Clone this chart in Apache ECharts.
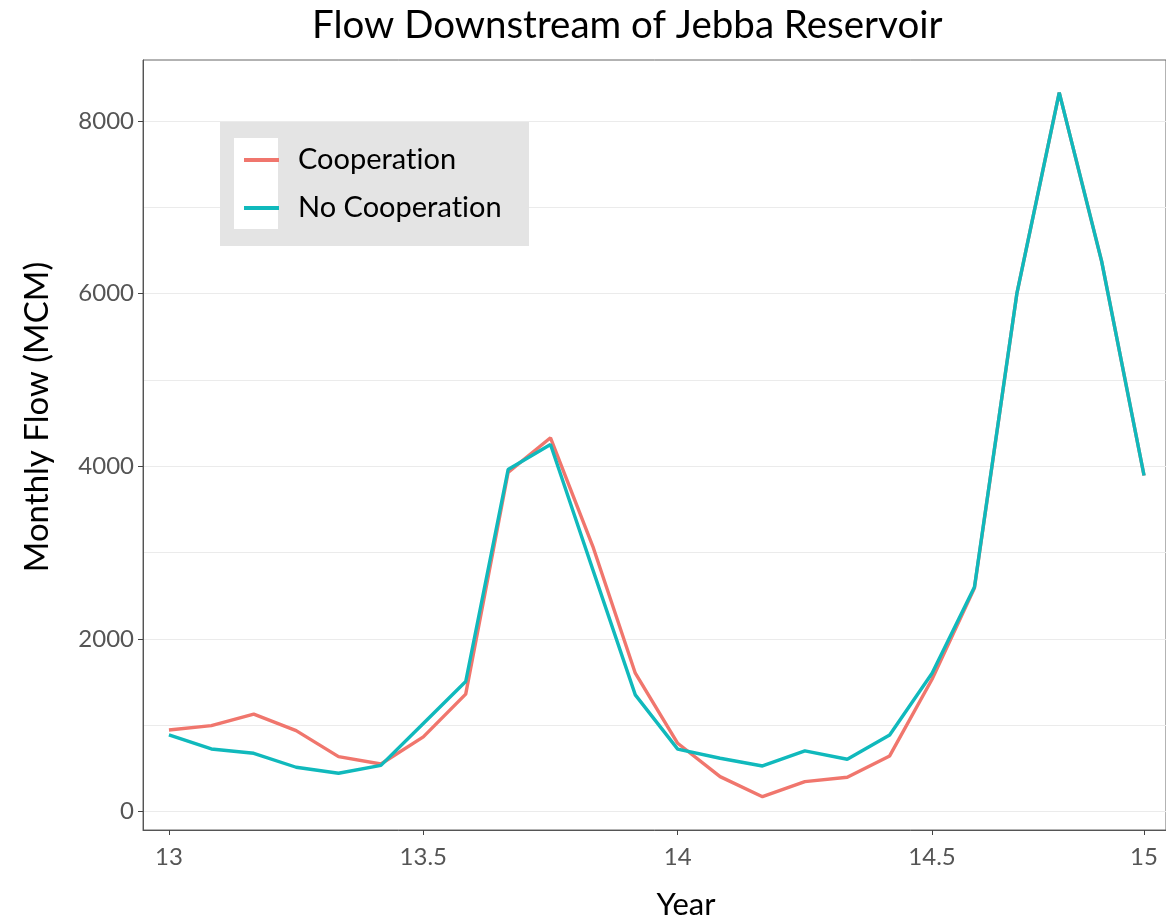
<!DOCTYPE html>
<html>
<head>
<meta charset="utf-8">
<script src="https://cdn.jsdelivr.net/npm/echarts@6/dist/echarts.min.js"></script>
<style>
html,body{margin:0;padding:0;background:#fff;}
#chart{width:1166px;height:924px;}
</style>
</head>
<body>
<div id="chart"></div>
<script>
// Month index (0 = start of year 13, one step per month)
const monthIndex = [0,1,2,3,4,5,6,7,8,9,10,11,12,13,14,15,16,17,18,19,20,21,22,23];
// Tick positions (month index) and their labels
const xTickPositions = [0, 6, 12, 18, 23];
const xTickLabels = ['13', '13.5', '14', '14.5', '15'];
const yLabelValues = [0, 2000, 4000, 6000, 8000];
const yGridValues = [0, 1000, 2000, 3000, 4000, 5000, 6000, 7000, 8000];
// Monthly flow (MCM)
const cooperation = [945, 995, 1128, 937, 636, 551, 865, 1360, 3930, 4330, 3070, 1603, 791, 404, 172, 346, 397, 644, 1533, 2590, 6000, 8330, 6373, 3893];
const noCooperation = [887, 725, 675, 513, 443, 535, 1020, 1506, 3962, 4252, 2800, 1351, 723, 617, 528, 702, 606, 887, 1603, 2600, 6000, 8330, 6373, 3893];
const seriesNames = ['Cooperation', 'No Cooperation'];
const colors = ['#F0766D', '#10B9BC'];

const FONT = 'Lato';
const chart = echarts.init(document.getElementById('chart'), null, {renderer: 'canvas'});

function pairs(vals) { return monthIndex.map((m, i) => [m, vals[i]]); }
function noLig(s) { return s.replace(/ti/g, 't\u200Ci'); }

chart.setOption({
  animation: false,
  backgroundColor: '#ffffff',
  textStyle: {fontFamily: FONT},
  title: {
    text: 'Flow Downstream of Jebba Reservoir',
    left: 307, top: 1,
    textStyle: {fontFamily: FONT, fontSize: 38.5, fontWeight: 'normal', color: '#000'}
  },
  graphic: [
    {type: 'rect', shape: {x: 220, y: 122, width: 309, height: 124}, style: {fill: '#e4e4e4'}, z: 5},
    {type: 'rect', shape: {x: 234, y: 138, width: 44, height: 91}, style: {fill: '#ffffff'}, z: 6},
    {type: 'text', x: 37, y: 417, rotation: Math.PI / 2, z: 10,
     style: {text: 'Monthly Flow (MCM)', fontFamily: FONT, fontSize: 33, fill: '#000', align: 'center', verticalAlign: 'middle'}},
    {type: 'text', x: 686, y: 905, z: 10,
     style: {text: 'Year', fontFamily: FONT, fontSize: 31, fill: '#000', align: 'center', verticalAlign: 'middle'}}
  ],
  legend: {
    orient: 'vertical',
    left: 239, top: 140,
    z: 10,
    icon: 'rect',
    itemWidth: 35, itemHeight: 4,
    itemGap: 18,
    data: seriesNames,
    formatter: name => noLig(name),
    textStyle: {fontFamily: FONT, fontSize: 29, color: '#000', lineHeight: 30, padding: [0, 0, 0, 14]}
  },
  grid: {left: 143, top: 60, right: -2, bottom: 94, show: true, borderColor: '#666', borderWidth: 1, containLabel: false},
  xAxis: {
    type: 'value',
    min: -0.612, max: 23.518,
    axisLine: {show: true, onZero: false, lineStyle: {color: '#555', width: 1}},
    axisTick: {show: true, length: 5, customValues: xTickPositions, lineStyle: {color: '#444'}},
    axisLabel: {customValues: xTickPositions, margin: 15, fontFamily: FONT, fontSize: 24, color: '#555',
      formatter: v => { const k = xTickPositions.indexOf(Math.round(v)); return k >= 0 ? xTickLabels[k] : ''; }},
    splitLine: {show: false}
  },
  yAxis: [{
    type: 'value',
    min: -214, max: 8707,
    axisLine: {show: true, onZero: false, lineStyle: {color: '#555', width: 1}},
    axisTick: {show: true, length: 5, customValues: yLabelValues, lineStyle: {color: '#444'}},
    axisLabel: {customValues: yLabelValues, margin: 9, fontFamily: FONT, fontSize: 24, color: '#555',
      formatter: v => String(Math.round(v))},
    splitLine: {show: false}
  }, {
    type: 'value',
    min: -214, max: 8707,
    position: 'left',
    axisLine: {show: false},
    axisTick: {show: false, customValues: yGridValues},
    axisLabel: {show: false},
    splitLine: {show: true, lineStyle: {color: '#ebebeb', width: 1.2}}
  }],
  series: [
    {name: seriesNames[0], type: 'line', data: pairs(cooperation), showSymbol: false, symbol: 'none',
     lineStyle: {width: 3.4, color: colors[0]}, itemStyle: {color: colors[0]}, z: 2},
    {name: seriesNames[1], type: 'line', data: pairs(noCooperation), showSymbol: false, symbol: 'none',
     lineStyle: {width: 3.4, color: colors[1]}, itemStyle: {color: colors[1]}, z: 3}
  ]
});
</script>
</body>
</html>
